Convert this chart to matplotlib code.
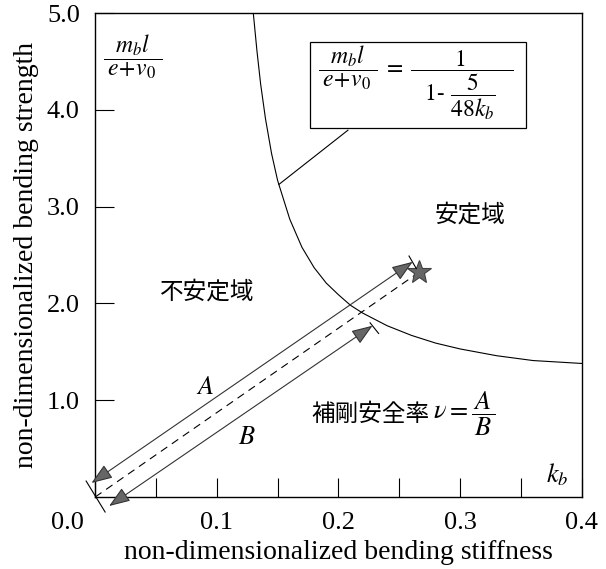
import matplotlib
matplotlib.use("Agg")
import matplotlib.pyplot as plt
from matplotlib.patches import Rectangle
from matplotlib.transforms import ScaledTranslation

plt.rcParams['font.family'] = ['Liberation Serif', 'Noto Sans CJK JP']
plt.rcParams['mathtext.fontset'] = 'stix'

# stability boundary
kb_curve = [0.130, 0.133, 0.136, 0.140, 0.145, 0.150, 0.160, 0.170, 0.180, 0.190,
            0.200, 0.210, 0.220, 0.240, 0.260, 0.280, 0.300, 0.330, 0.360, 0.400]
strength_curve = [5.00, 4.61, 4.27, 3.91, 3.55, 3.27, 2.87, 2.58, 2.37, 2.21,
                  2.09, 1.98, 1.90, 1.77, 1.67, 1.59, 1.53, 1.46, 1.41, 1.38]

star_point = (0.266, 2.32)
arrow_A = [(-0.003, 0.145), (0.261, 2.43)]
arrow_B = [(0.0115, -0.093), (0.228, 1.77)]
ext_lines = [[(-0.0074, 0.165), (0.0082, -0.155)],
             [(0.258, 2.49), (0.264, 2.36)],
             [(0.226, 1.80), (0.233, 1.69)]]
formula_box = (0.1766, 3.81, 0.354, 4.70)
leader = [(0.2078, 3.79), (0.1511, 3.23)]

xticks = [0.0, 0.1, 0.2, 0.3, 0.4]
xtick_labels = ['0.0', '0.1', '0.2', '0.3', '0.4']
xminor = [0.05, 0.15, 0.25, 0.35]
yticks = [1.0, 2.0, 3.0, 4.0, 5.0]
ytick_labels = ['1.0', '2.0', '3.0', '4.0', '5.0']

fig = plt.figure(figsize=(6.06, 5.69), dpi=100)
ax = fig.add_axes([0.157, 0.1265, 0.803, 0.8505])

ax.plot(kb_curve, strength_curve, color='black', lw=0.8)

# dashed ray to the design point
ax.plot([0, star_point[0]], [0, star_point[1]], color='black', lw=0.8,
        dashes=(7, 5), clip_on=False)
ax.plot(*star_point, marker='*', ms=18, mfc='0.4', mec='0.25', mew=0.8,
        clip_on=False)

astyle = '<|-|>,head_length=0.65,head_width=0.24'
for seg in (arrow_A, arrow_B):
    ax.annotate('', xy=seg[1], xytext=seg[0], annotation_clip=False,
                arrowprops=dict(arrowstyle=astyle, mutation_scale=20, lw=0.8,
                                fc='0.4', ec='0.2', shrinkA=0, shrinkB=0))
for seg in ext_lines:
    ax.plot([seg[0][0], seg[1][0]], [seg[0][1], seg[1][1]], color='black',
            lw=0.8, clip_on=False)

x0, y0, x1, y1 = formula_box
ax.add_patch(Rectangle((x0, y0), x1 - x0, y1 - y0, fill=False, ec='black', lw=0.9))
ax.plot([leader[0][0], leader[1][0]], [leader[0][1], leader[1][1]],
        color='black', lw=0.8)
ax.text((x0 + x1) / 2 - 0.002, (y0 + y1) / 2 + 0.02,
        r'$\dfrac{m_b l}{\;e\!+\!v_0\;}\;=\;'
        r'\dfrac{1}{\;\;\;1\text{- }\dfrac{5}{48k_b}\;\;\;}$',
        fontsize=17, ha='center', va='center')

ax.text(0.031, 4.55, r'$\dfrac{m_b l}{\;e\!+\!v_0\;}$', fontsize=17,
        ha='center', va='center')
ax.text(0.380, 0.23, r'$k_b$', fontsize=19, ha='center', va='center')
ax.text(0.090, 1.13, r'$A$', fontsize=19, ha='center', va='center')
ax.text(0.125, 0.61, r'$B$', fontsize=19, ha='center', va='center')

ax.text(0.092, 2.12, '不安定域', family='Noto Sans CJK JP', fontsize=17,
        ha='center', va='center')
ax.text(0.308, 2.91, '安定域', family='Noto Sans CJK JP', fontsize=17,
        ha='center', va='center')
ax.text(0.275, 0.85, '補剛安全率', family='Noto Sans CJK JP', fontsize=17,
        ha='right', va='center')
ax.text(0.278, 0.86, r'$\nu=\dfrac{\,A\,}{B}$', fontsize=19, ha='left',
        va='center')

ax.set_xlim(0, 0.4)
ax.set_ylim(0, 5.0)
ax.set_xticks(xticks)
ax.set_xticklabels(xtick_labels)
ax.set_xticks(xminor, minor=True)
ax.set_yticks(yticks)
ax.set_yticklabels(ytick_labels)
ax.tick_params(which='both', direction='in', length=14, width=0.8,
               labelsize=19, colors='black')
ax.tick_params(axis='x', pad=11)
ax.tick_params(axis='y', pad=11)

# corner label sits left of the origin
lab0 = ax.get_xticklabels()[0]
lab0.set_transform(lab0.get_transform() +
                   ScaledTranslation(-0.28, 0, fig.dpi_scale_trans))

for s in ax.spines.values():
    s.set_linewidth(1.0)

ax.set_xlabel('non-dimensionalized bending stiffness', fontsize=20, labelpad=4)
ax.set_ylabel('non-dimensionalized bending strength', fontsize=20, labelpad=6)

fig.savefig('out.png', dpi=100)
